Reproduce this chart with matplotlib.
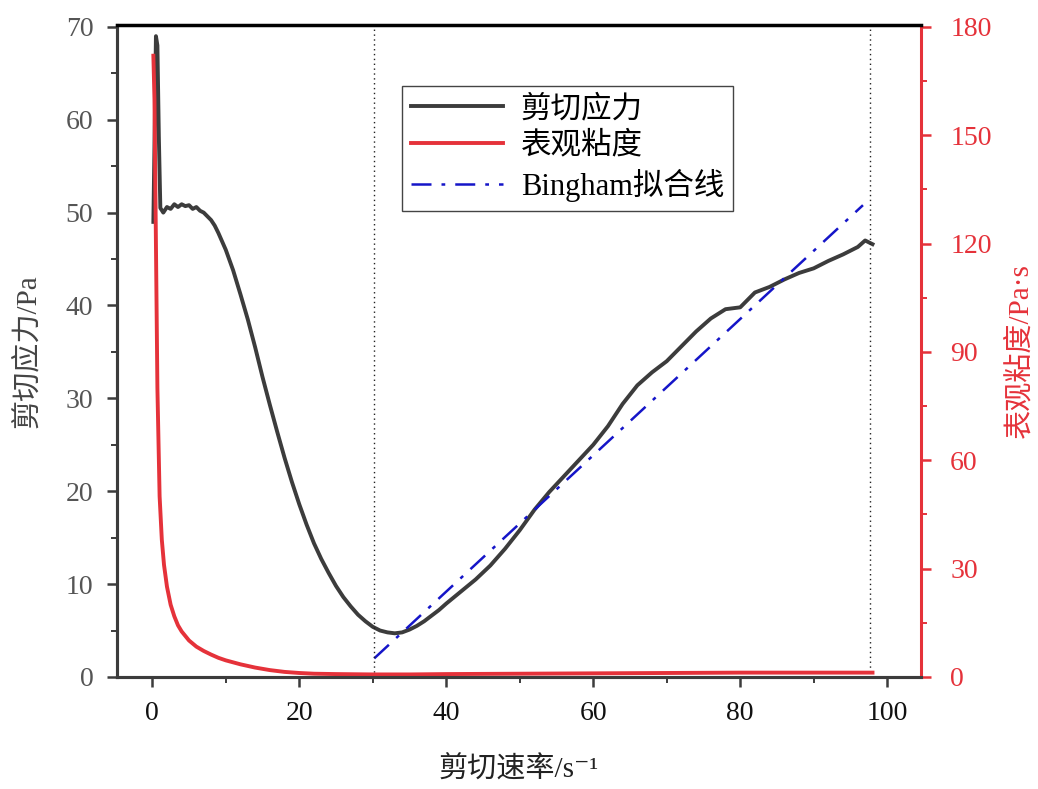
import numpy as np
import matplotlib
matplotlib.use('Agg')
import matplotlib.pyplot as plt
from matplotlib.ticker import MultipleLocator

plt.rcParams['font.family'] = ['Liberation Serif', 'Noto Sans CJK SC', 'DejaVu Sans']

# 剪切应力 (Pa) vs 剪切速率 (1/s)
rate_stress = [0.15, 0.35, 0.5, 0.7, 0.9, 1.1, 1.5, 2.0, 2.5, 3.0, 3.5, 4.0, 4.5, 5.0,
               5.5, 6.0, 6.5, 7.0, 7.5, 8.0, 8.5, 9.0, 10, 11, 12, 13, 14, 15, 16, 17,
               18, 19, 20, 21, 22, 23, 24, 25, 26, 27, 28, 29, 30, 31, 32, 33, 34, 35,
               36, 37, 38, 39, 40, 42, 44, 46, 48, 50, 52, 54, 56, 58, 60, 62, 64, 66,
               68, 70, 72, 74, 76, 78, 80, 81, 82, 84, 86, 88, 90, 92, 94, 96, 97, 98]
stress = [49, 60, 69, 68, 58, 50.5, 50.0, 50.6, 50.4, 50.9, 50.6, 50.9, 50.7, 50.8,
          50.4, 50.6, 50.2, 50.0, 49.6, 49.2, 48.6, 47.8, 46.0, 43.8, 41.2, 38.5, 35.5,
          32.3, 29.3, 26.4, 23.6, 21.0, 18.6, 16.4, 14.4, 12.7, 11.2, 9.8, 8.6, 7.6,
          6.7, 6.0, 5.4, 5.0, 4.8, 4.7, 4.8, 5.1, 5.5, 6.0, 6.6, 7.2, 7.9, 9.2, 10.5,
          12.0, 13.8, 15.8, 18.0, 19.9, 21.6, 23.3, 25.0, 27.0, 29.4, 31.4, 32.8, 34.0,
          35.6, 37.2, 38.6, 39.6, 39.8, 40.6, 41.4, 42.0, 42.8, 43.5, 44.0, 44.8, 45.5,
          46.3, 47.0, 46.6]

# 表观粘度 (Pa·s)
rate_visc = [0.15, 0.3, 0.5, 0.7, 1.0, 1.3, 1.6, 2.0, 2.5, 3.0, 3.5, 4.0, 5.0, 6.0,
             7.0, 8.0, 9.0, 10, 12, 14, 16, 18, 20, 22, 25, 30, 35, 40, 50, 60, 70,
             80, 90, 98]
visc = [172, 160, 120, 80, 50, 38, 31, 25, 20, 16.8, 14.3, 12.6, 10.1, 8.4, 7.2, 6.2,
        5.3, 4.6, 3.5, 2.6, 1.9, 1.4, 1.1, 0.9, 0.8, 0.7, 0.7, 0.8, 0.9, 1.0, 1.1,
        1.2, 1.2, 1.2]

# Bingham 拟合线端点
bingham_x = [30.2, 96.7]
bingham_y = [2.0, 50.8]

# 竖直虚线位置
vlines_x = [30.2, 97.7]

grey = '#3c3c3c'
red = '#e5323a'

fig = plt.figure(figsize=(10.38, 7.89), dpi=100)
ax1 = fig.add_axes([0.1127, 0.1420, 0.7746, 0.8263])
ax2 = ax1.twinx()

l1, = ax1.plot(rate_stress, stress, color=grey, lw=2.8, label='剪切应力')
l2, = ax2.plot(rate_visc, visc, color=red, lw=2.8, label='表观粘度')
l3, = ax1.plot(bingham_x, bingham_y, color='#1515c8', lw=1.8,
               ls=(0, (8, 4, 1.5, 4)), label='Bingham拟合线')
for xv in vlines_x:
    ax1.axvline(xv, color='#222222', lw=1.0, ls=(0, (1, 2.5)))

ax1.set_xlim(-4.8, 104.6)
ax1.set_ylim(0, 70.2)
ax2.set_ylim(0, 180.5)

ax1.xaxis.set_major_locator(MultipleLocator(20))
ax1.xaxis.set_minor_locator(MultipleLocator(10))
ax1.yaxis.set_major_locator(MultipleLocator(10))
ax1.yaxis.set_minor_locator(MultipleLocator(5))
ax2.yaxis.set_major_locator(MultipleLocator(30))
ax2.yaxis.set_minor_locator(MultipleLocator(15))

ax1.tick_params(axis='both', which='major', direction='out', length=7, width=1.8,
                color=grey, labelsize=20, pad=10)
ax1.tick_params(axis='both', which='minor', direction='out', length=4, width=1.4,
                color=grey)
ax1.tick_params(axis='x', labelcolor='#111111')
ax1.tick_params(axis='y', labelcolor='#555555')
ax2.tick_params(axis='y', which='major', direction='out', length=7, width=1.8,
                color=red, labelsize=20, labelcolor=red, pad=14)
ax2.tick_params(axis='y', which='minor', direction='out', length=4, width=1.4,
                color=red)

for ax in (ax1, ax2):
    ax.spines['left'].set_color(grey)
    ax.spines['left'].set_linewidth(2.2)
    ax.spines['bottom'].set_color(grey)
    ax.spines['bottom'].set_linewidth(2.2)
ax2.spines['top'].set_color('black')
ax2.spines['top'].set_linewidth(2.5)
ax2.spines['right'].set_color(red)
ax2.spines['right'].set_linewidth(2.2)

ax1.set_xlabel('剪切速率/s⁻¹', fontsize=21, color='#222222', labelpad=22)
ax1.set_ylabel('剪切应力/Pa', fontsize=21, color='#444444', labelpad=18)
ax2.set_ylabel('表观粘度/Pa·s', fontsize=21, color=red, labelpad=10)

leg = ax1.legend(handles=[l1, l2, l3], loc='upper left',
                 bbox_to_anchor=(0.387, 0.891), bbox_transform=fig.transFigure,
                 borderaxespad=0, fontsize=22, handlelength=3.0, handletextpad=0.6,
                 fancybox=False, framealpha=1, edgecolor='#444444',
                 labelspacing=0.25, borderpad=0.3)
leg.get_frame().set_linewidth(1.0)

fig.savefig('out.png', dpi=100)
